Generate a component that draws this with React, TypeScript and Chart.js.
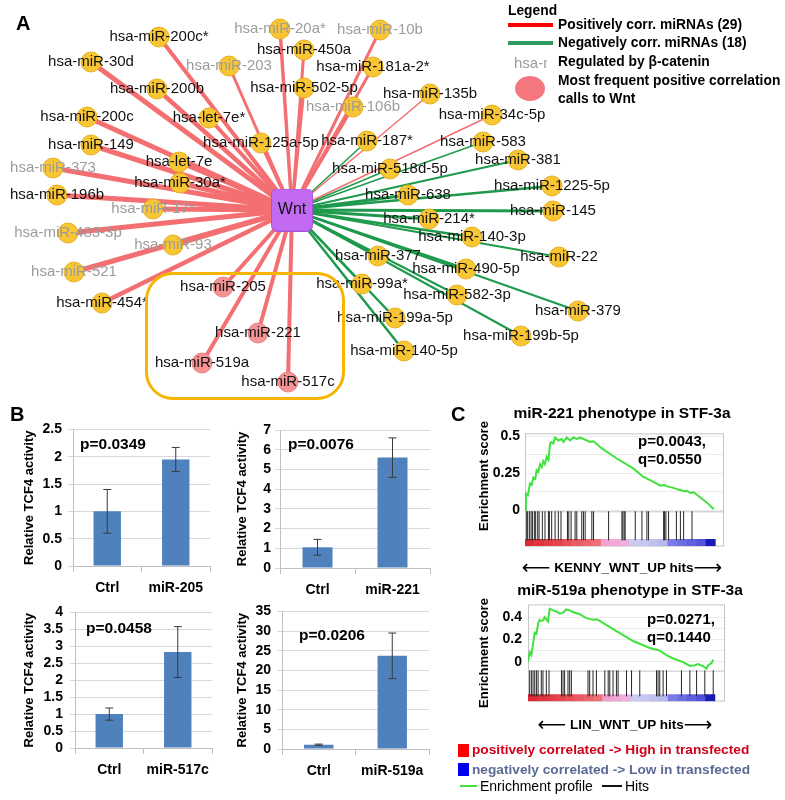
import React, { useEffect, useRef } from 'react';
import { Chart, registerables } from 'chart.js';
Chart.register(...registerables);

const SANS = '"Liberation Sans", Arial, Helvetica, sans-serif';

// ---------------- Panel A : network ----------------
const HUB_NAME = 'Wnt';
const HUB_X = 292;
const HUB_Y = 210;

const POS_NAMES = [
  'hsa-miR-200c*', 'hsa-miR-30d', 'hsa-miR-200b', 'hsa-miR-200c', 'hsa-let-7e*', 'hsa-miR-149',
  'hsa-miR-373', 'hsa-let-7e', 'hsa-miR-30a*', 'hsa-miR-196b', 'hsa-miR-125a-5p', 'hsa-miR-203',
  'hsa-miR-20a*', 'hsa-miR-450a', 'hsa-miR-502-5p', 'hsa-miR-10b', 'hsa-miR-181a-2*', 'hsa-miR-135b',
  'hsa-miR-106b', 'hsa-miR-34c-5p', 'hsa-miR-17*', 'hsa-miR-483-3p', 'hsa-miR-93', 'hsa-miR-521',
  'hsa-miR-454*', 'hsa-miR-205', 'hsa-miR-221', 'hsa-miR-519a', 'hsa-miR-517c',
];
const POS_X = [159, 91, 157, 87, 209, 91, 53, 179, 180, 57, 261, 229, 280, 304, 304, 380, 373, 430, 353, 492, 153, 68, 173, 74, 102, 223, 258, 202, 288];
const POS_Y = [37, 62, 89, 117, 118, 145, 168, 162, 183, 195, 143, 66, 29, 50, 88, 30, 67, 94, 107, 115, 209, 233, 245, 272, 303, 287, 333, 363, 382];
const POS_EDGE_W = [4, 5, 4.5, 5, 4, 5, 5, 4.5, 5, 5, 4, 3, 3.5, 3, 3, 3, 3, 1.5, 3, 1.5, 5, 5, 5, 5, 4.5, 4, 4, 4, 4];

const NEG_NAMES = [
  'hsa-miR-187*', 'hsa-miR-518d-5p', 'hsa-miR-583', 'hsa-miR-381', 'hsa-miR-1225-5p', 'hsa-miR-638',
  'hsa-miR-145', 'hsa-miR-214*', 'hsa-miR-140-3p', 'hsa-miR-22', 'hsa-miR-377', 'hsa-miR-490-5p',
  'hsa-miR-99a*', 'hsa-miR-582-3p', 'hsa-miR-379', 'hsa-miR-199a-5p', 'hsa-miR-199b-5p', 'hsa-miR-140-5p',
];
const NEG_X = [367, 390, 483, 518, 552, 408, 553, 429, 472, 559, 378, 466, 362, 457, 578, 395, 521, 404];
const NEG_Y = [141, 169, 142, 160, 186, 195, 211, 219, 237, 257, 256, 269, 284, 295, 311, 318, 336, 351];
const NEG_EDGE_W = [1.5, 1.5, 1.5, 2, 2.5, 3, 3, 3, 2.5, 2, 3, 2.5, 2.5, 2, 2, 2.5, 2, 2.5];

const BETA_CATENIN = ['hsa-miR-20a*', 'hsa-miR-10b', 'hsa-miR-203', 'hsa-miR-106b', 'hsa-miR-373', 'hsa-miR-17*', 'hsa-miR-483-3p', 'hsa-miR-93', 'hsa-miR-521'];
const FREQUENT = ['hsa-miR-205', 'hsa-miR-221', 'hsa-miR-519a', 'hsa-miR-517c'];

const LEGEND_A = ['Positively corr. miRNAs (29)', 'Negatively corr. miRNAs (18)', 'Regulated by β-catenin', 'Most frequent positive correlation', 'calls to Wnt'];

// ---------------- Panel B : bar charts ----------------
const B_CATS = [['Ctrl', 'miR-205'], ['Ctrl', 'miR-221'], ['Ctrl', 'miR-517c'], ['Ctrl', 'miR-519a']];
const B_VALS_1 = [1.0, 1.95];
const B_VALS_2 = [1.05, 5.6];
const B_VALS_3 = [1.0, 2.83];
const B_VALS_4 = [1.1, 23.7];
const B_ERRS_1 = [0.4, 0.22];
const B_ERRS_2 = [0.4, 1.0];
const B_ERRS_3 = [0.18, 0.75];
const B_ERRS_4 = [0.15, 5.8];
const B_YMAX = [2.5, 7, 4, 35];
const B_STEP = [0.5, 1, 0.5, 5];
const B_PVALS = ['p=0.0349', 'p=0.0076', 'p=0.0458', 'p=0.0206'];
const B_YTITLE = 'Relative TCF4 activity';

// ---------------- Panel C : enrichment plots ----------------
const C1_RANK = [0, 0.5, 1.5, 2.6, 3.5, 4.4, 5.4, 6.1, 7.0, 7.9, 8.8, 9.6, 10.5, 11.4, 12.3, 13.2, 14.0, 14.9, 15.8, 17.5, 19.3, 20.2, 21.9, 23.7, 25.4, 27.2, 28.9, 30.7, 32.5, 34.2, 36, 40, 48, 57, 62, 67.5, 71, 73, 74.6, 78, 80, 81.6, 84, 85.1, 86.8, 88.6, 92.1, 95.6, 99.1];
const C1_ES = [0, 0.11, 0.10, 0.18, 0.17, 0.22, 0.21, 0.27, 0.26, 0.31, 0.29, 0.33, 0.31, 0.36, 0.34, 0.45, 0.46, 0.45, 0.49, 0.47, 0.48, 0.46, 0.49, 0.47, 0.49, 0.48, 0.49, 0.48, 0.47, 0.46, 0.465, 0.42, 0.35, 0.28, 0.225, 0.19, 0.165, 0.17, 0.16, 0.15, 0.14, 0.135, 0.125, 0.13, 0.115, 0.12, 0.085, 0.05, 0.005];
const C1_HITS = [0.9, 1.4, 2.3, 3.2, 3.9, 4.9, 5.6, 6.7, 7.4, 9.1, 10.5, 12.3, 12.8, 14.0, 15.8, 17.5, 18.9, 22.3, 23.0, 24.2, 26.3, 27.2, 29.8, 30.7, 31.6, 35.1, 36.0, 43.9, 50.9, 51.4, 52.1, 52.6, 57.9, 61.4, 64.0, 64.9, 72.8, 73.3, 74.0, 75.4, 79.5, 81.6, 83.3, 87.7];

const C2_RANK = [0, 0.9, 1.8, 2.7, 3.6, 4.5, 5.4, 6.25, 7.1, 8.0, 8.9, 9.8, 10.7, 11.6, 13.4, 15.2, 17, 18.75, 20.5, 22.3, 24.1, 27.7, 31.25, 34.8, 36.6, 38.4, 47.3, 56.25, 65.2, 70.5, 74.1, 77.7, 83, 86.6, 89.3, 91, 93.75, 95.5, 96.4, 98.2, 99.1];
const C2_ES = [0, 0.085, 0.06, 0.16, 0.26, 0.25, 0.34, 0.375, 0.365, 0.37, 0.40, 0.38, 0.36, 0.475, 0.46, 0.45, 0.43, 0.44, 0.468, 0.46, 0.445, 0.425, 0.39, 0.375, 0.38, 0.365, 0.274, 0.186, 0.124, 0.10, 0.06, 0.03, -0.003, -0.036, -0.03, -0.02, -0.04, -0.06, -0.03, -0.01, 0.02];
const C2_HITS = [0.9, 1.8, 2.7, 3.6, 4.5, 5.4, 7.1, 8.0, 9.8, 11.25, 17.9, 18.75, 19.6, 21.4, 22.3, 23.2, 32.1, 33.0, 34.8, 36.6, 41.1, 42.9, 43.75, 45.5, 47.3, 48.2, 52.7, 55.4, 59.8, 68.75, 69.6, 70.5, 72.3, 74.1, 82.1, 86.6, 90.2, 94.6, 99.1];

const CBAR_POS = [2.5, 7.5, 12.5, 17.5, 22.5, 27.5, 32.5, 37.5, 42.5, 47.5, 52.5, 57.5, 62.5, 67.5, 72.5, 77.5, 82.5, 87.5, 92.5, 97.5];
const CBAR_COLORS = ['#dd2a33', '#e0333c', '#e23c45', '#e5464e', '#e85058', '#ea5a62', '#ec656c', '#ef7077', '#f2a0d2', '#f0a8d8', '#eeb0de', '#cbcbf2', '#c6c6f0', '#c0c0ee', '#b8b8ec', '#7a7ae8', '#6e6ee4', '#6060e0', '#5252da', '#1a1ab8'];

const C1_YTICKS = [0, 0.125, 0.25, 0.375, 0.5];
const C1_YLABELS = [0, 0.25, 0.5];
const C2_YTICKS = [0, 0.1, 0.2, 0.3, 0.4];
const C2_YLABELS = [0, 0.2, 0.4];

// ---------------- helpers ----------------
type TxtProps = { x: number; y: number; size: number; bold?: boolean; color?: string; center?: boolean; children: React.ReactNode; rot?: boolean };
function Txt({ x, y, size, bold, color, center, children, rot }: TxtProps) {
  const tf = rot ? 'translate(-50%,-50%) rotate(-90deg)' : center ? 'translate(-50%,-50%)' : 'translateY(-50%)';
  return (
    <div style={{ position: 'absolute', left: x, top: y, transform: tf, fontFamily: SANS, fontSize: size, fontWeight: bold ? 'bold' : 'normal', color: color || '#000', whiteSpace: 'nowrap', lineHeight: 1, zIndex: 2 }}>
      {children}
    </div>
  );
}

const ARROW_STYLE: React.CSSProperties = { fontSize: 20, fontWeight: 'normal', fontFamily: '"DejaVu Sans", sans-serif', verticalAlign: '-2px' };

function NetworkChart() {
  const ref = useRef<HTMLCanvasElement>(null);
  useEffect(() => {
    const hub = document.createElement('canvas');
    hub.width = 42; hub.height = 43;
    const hc = hub.getContext('2d')!;
    const r = 6, w = 41, h = 42, ox = 0.5, oy = 0.5;
    hc.beginPath();
    hc.moveTo(ox + r, oy);
    hc.lineTo(ox + w - r, oy); hc.quadraticCurveTo(ox + w, oy, ox + w, oy + r);
    hc.lineTo(ox + w, oy + h - r); hc.quadraticCurveTo(ox + w, oy + h, ox + w - r, oy + h);
    hc.lineTo(ox + r, oy + h); hc.quadraticCurveTo(ox, oy + h, ox, oy + h - r);
    hc.lineTo(ox, oy + r); hc.quadraticCurveTo(ox, oy, ox + r, oy);
    hc.closePath();
    hc.fillStyle = '#c26af4'; hc.fill();
    hc.strokeStyle = '#a552d8'; hc.lineWidth = 1; hc.stroke();

    const nodes = [
      ...POS_NAMES.map((n, i) => ({ name: n, x: POS_X[i], y: POS_Y[i], pos: true, w: POS_EDGE_W[i] })),
      ...NEG_NAMES.map((n, i) => ({ name: n, x: NEG_X[i], y: NEG_Y[i], pos: false, w: NEG_EDGE_W[i] })),
    ];
    const edgeSets = nodes.map((n) => ({
      type: 'line' as const,
      data: [{ x: HUB_X, y: HUB_Y }, { x: n.x, y: n.y }],
      borderColor: n.pos ? '#f36f72' : '#1f9a4c',
      borderWidth: n.w,
      pointRadius: 0,
      showLine: true,
      fill: false,
    }));
    const labelPlugin = {
      id: 'netLabels',
      afterDatasetsDraw(chart: any) {
        const { ctx, scales } = chart;
        ctx.save();
        ctx.textAlign = 'center';
        ctx.textBaseline = 'middle';
        ctx.font = `15px ${SANS}`;
        nodes.forEach((n) => {
          ctx.fillStyle = BETA_CATENIN.includes(n.name) ? '#9c9c9c' : '#111';
          ctx.fillText(n.name, scales.x.getPixelForValue(n.x), scales.y.getPixelForValue(n.y));
        });
        ctx.font = `16px ${SANS}`;
        ctx.fillStyle = '#111';
        ctx.fillText(HUB_NAME, scales.x.getPixelForValue(HUB_X), scales.y.getPixelForValue(HUB_Y));
        ctx.restore();
      },
    };
    const chart = new Chart(ref.current!, {
      type: 'scatter',
      data: {
        datasets: [
          { data: [{ x: HUB_X, y: HUB_Y }], pointStyle: hub as any, pointRadius: 21 },
          {
            data: nodes.map((n) => ({ x: n.x, y: n.y })),
            pointRadius: 10,
            pointBackgroundColor: nodes.map((n) => (FREQUENT.includes(n.name) ? '#f49294' : '#f8c534')),
            pointBorderColor: nodes.map((n) => (FREQUENT.includes(n.name) ? '#e88486' : '#e6b01e')),
            pointBorderWidth: 1,
          },
          ...(edgeSets as any[]),
        ],
      },
      options: {
        animation: false,
        responsive: false,
        devicePixelRatio: 1,
        layout: { padding: 0, autoPadding: false },
        plugins: { legend: { display: false }, tooltip: { enabled: false } },
        scales: {
          x: { type: 'linear', min: 0, max: 785, display: false },
          y: { type: 'linear', min: 0, max: 400, reverse: true, display: false },
        },
      } as any,
      plugins: [labelPlugin],
    });
    return () => chart.destroy();
  }, []);
  return <canvas ref={ref} width={785} height={400} style={{ position: 'absolute', left: 0, top: 0 }} />;
}

type BarProps = {
  left: number; top: number; width: number; height: number;
  cats: string[]; vals: number[]; errs: number[]; ymax: number; step: number;
  yW: number; padTop: number; padRight: number; xH: number; tickPad: number; titlePad: number;
};
function BarChart(p: BarProps) {
  const ref = useRef<HTMLCanvasElement>(null);
  useEffect(() => {
    const bold = { family: SANS, size: 14, weight: 'bold' as const };
    const errSets = p.cats.map((c, i) => ({
      type: 'line' as const,
      data: [{ x: c, y: p.vals[i] - p.errs[i] }, { x: c, y: p.vals[i] + p.errs[i] }],
      borderColor: '#3a3a3a',
      borderWidth: 1,
      pointStyle: 'line' as const,
      pointRadius: 4,
      pointBorderWidth: 1,
      pointBorderColor: '#3a3a3a',
    }));
    const chart = new Chart(ref.current!, {
      type: 'bar',
      data: {
        labels: p.cats,
        datasets: [
          ...(errSets as any[]),
          { type: 'bar', data: p.vals, backgroundColor: '#4f81bd', barPercentage: 0.4, categoryPercentage: 1 },
        ],
      },
      options: {
        animation: false,
        responsive: false,
        devicePixelRatio: 1,
        layout: { padding: { top: p.padTop, right: p.padRight, left: 0, bottom: 0 }, autoPadding: false },
        plugins: { legend: { display: false }, tooltip: { enabled: false } },
        scales: {
          x: {
            grid: { offset: true, drawOnChartArea: false, tickLength: 6, color: '#bfbfbf' },
            border: { color: '#bfbfbf' },
            ticks: { font: bold, color: '#000', padding: 8 },
            afterFit: (s: any) => { s.height = p.xH; },
          },
          y: {
            min: 0,
            max: p.ymax,
            ticks: { stepSize: p.step, font: bold, color: '#000', padding: p.tickPad, autoSkip: false, callback: (v: any) => String(Number(v)) },
            grid: { color: '#d9d9d9', tickLength: 5 },
            border: { color: '#bfbfbf' },
            title: { display: true, text: B_YTITLE, font: { family: SANS, size: 13, weight: 'bold' }, color: '#000', padding: { top: p.titlePad, bottom: 0 } },
            afterFit: (s: any) => { s.width = p.yW; },
          },
        },
      } as any,
    });
    return () => chart.destroy();
  }, []);
  return <canvas ref={ref} width={p.width} height={p.height} style={{ position: 'absolute', left: p.left, top: p.top }} />;
}

type GseaProps = {
  left: number; top: number; width: number; height: number;
  rank: number[]; es: number[]; hits: number[]; yticks: number[]; ylabels: number[];
  ymin: number; ymax: number; xmax: number; hitY: number; hitR: number; barY: number; sepY: number;
  yW: number; padTop: number; padRight: number; tickPad: number;
};
function GseaChart(p: GseaProps) {
  const ref = useRef<HTMLCanvasElement>(null);
  useEffect(() => {
    const frame = {
      id: 'frame',
      beforeDatasetsDraw(chart: any) {
        const { ctx, chartArea: a } = chart;
        ctx.save();
        ctx.strokeStyle = '#c4c4c4';
        ctx.lineWidth = 1;
        ctx.strokeRect(a.left + 0.5, a.top + 0.5, a.width - 1, a.height - 1);
        ctx.restore();
      },
    };
    const chart = new Chart(ref.current!, {
      type: 'scatter',
      data: {
        datasets: [
          { type: 'line', data: p.rank.map((r, i) => ({ x: r, y: p.es[i] })), borderColor: '#3fe23f', borderWidth: 2, pointRadius: 0, showLine: true },
          { data: p.hits.map((h) => ({ x: h, y: p.hitY })), pointStyle: 'line', rotation: 90, pointRadius: p.hitR, pointBorderWidth: 1, pointBorderColor: '#262626' },
          { data: CBAR_POS.map((c) => ({ x: c, y: p.barY })), pointStyle: 'line', rotation: 90, pointRadius: 3.5, pointBorderWidth: 10, pointBorderColor: CBAR_COLORS },
          { type: 'line', data: [{ x: 0, y: p.sepY }, { x: p.xmax, y: p.sepY }], borderColor: '#c4c4c4', borderWidth: 1, pointRadius: 0, showLine: true },
        ],
      } as any,
      options: {
        animation: false,
        responsive: false,
        devicePixelRatio: 1,
        layout: { padding: { top: p.padTop, right: p.padRight, left: 0, bottom: 1 }, autoPadding: false },
        plugins: { legend: { display: false }, tooltip: { enabled: false } },
        scales: {
          x: { type: 'linear', min: 0, max: p.xmax, display: false },
          y: {
            type: 'linear',
            min: p.ymin,
            max: p.ymax,
            afterBuildTicks: (s: any) => { s.ticks = p.yticks.map((v) => ({ value: v })); },
            ticks: {
              font: { family: SANS, size: 14, weight: 'bold' },
              color: '#000',
              padding: p.tickPad,
              autoSkip: false,
              callback: (v: any) => (p.ylabels.includes(Number(v)) ? String(v) : ''),
            },
            grid: { color: '#ebebeb', drawTicks: false },
            border: { display: false },
            afterFit: (s: any) => { s.width = p.yW; },
          },
        },
      } as any,
      plugins: [frame],
    });
    return () => chart.destroy();
  }, []);
  return <canvas ref={ref} width={p.width} height={p.height} style={{ position: 'absolute', left: p.left, top: p.top }} />;
}

export default function App() {
  return (
    <div style={{ position: 'absolute', left: 0, top: 0, width: 785, height: 800, overflow: 'hidden', background: '#fff', fontFamily: SANS }}>
      <NetworkChart />
      {/* orange box */}
      <div style={{ position: 'absolute', left: 145, top: 272, width: 200, height: 128, border: '3px solid #f7b500', borderRadius: 28, boxSizing: 'border-box', zIndex: 1 }} />
      <Txt x={16} y={23} size={20} bold>A</Txt>
      {/* legend A */}
      <Txt x={508} y={11} size={13.8} bold>Legend</Txt>
      <div style={{ position: 'absolute', left: 508, top: 23, width: 45, height: 4, background: '#ff0000' }} />
      <div style={{ position: 'absolute', left: 508, top: 41, width: 45, height: 4, background: '#2e9a60' }} />
      <div style={{ position: 'absolute', left: 514, top: 54, width: 33, height: 18, overflow: 'hidden' }}>
        <div style={{ fontFamily: SANS, fontSize: 15, color: '#9c9c9c', whiteSpace: 'nowrap', lineHeight: '18px' }}>hsa-miR</div>
      </div>
      <div style={{ position: 'absolute', left: 515, top: 76, width: 30, height: 25, borderRadius: '50%', background: '#f4777f' }} />
      {LEGEND_A.map((t, i) => (
        <Txt key={t} x={558} y={[25, 43, 62, 81, 99][i]} size={13.8} bold>{t}</Txt>
      ))}

      {/* Panel B */}
      <Txt x={10} y={414} size={20} bold>B</Txt>
      <BarChart left={0} top={415} width={225} height={190} cats={B_CATS[0]} vals={B_VALS_1} errs={B_ERRS_1} ymax={B_YMAX[0]} step={B_STEP[0]} yW={73} padTop={13} padRight={15} xH={39} tickPad={6} titlePad={22} />
      <BarChart left={208} top={415} width={230} height={190} cats={B_CATS[1]} vals={B_VALS_2} errs={B_ERRS_2} ymax={B_YMAX[1]} step={B_STEP[1]} yW={72} padTop={15} padRight={8} xH={37} tickPad={4} titlePad={27} />
      <BarChart left={0} top={597} width={225} height={190} cats={B_CATS[2]} vals={B_VALS_3} errs={B_ERRS_3} ymax={B_YMAX[2]} step={B_STEP[2]} yW={75} padTop={13} padRight={13} xH={39} tickPad={7} titlePad={22} />
      <BarChart left={208} top={597} width={230} height={190} cats={B_CATS[3]} vals={B_VALS_4} errs={B_ERRS_4} ymax={B_YMAX[3]} step={B_STEP[3]} yW={74} padTop={13} padRight={9} xH={38} tickPad={6} titlePad={27} />
      <Txt x={80} y={444} size={15.5} bold>{B_PVALS[0]}</Txt>
      <Txt x={288} y={444} size={15.5} bold>{B_PVALS[1]}</Txt>
      <Txt x={86} y={628} size={15.5} bold>{B_PVALS[2]}</Txt>
      <Txt x={299} y={635} size={15.5} bold>{B_PVALS[3]}</Txt>

      {/* Panel C */}
      <Txt x={451} y={414} size={20} bold>C</Txt>
      <Txt x={622} y={413} size={15.5} bold center>miR-221 phenotype in STF-3a</Txt>
      <GseaChart left={490} top={420} width={245} height={140} rank={C1_RANK} es={C1_ES} hits={C1_HITS} yticks={C1_YTICKS} ylabels={C1_YLABELS}
        ymin={-0.247} ymax={0.518} xmax={104.5} hitY={-0.106} hitR={14.5} barY={-0.22} sepY={-0.012} yW={35} padTop={9} padRight={11} tickPad={5} />
      <Txt x={638} y={440} size={15} bold>p=0.0043,</Txt>
      <Txt x={638} y={458} size={15} bold>q=0.0550</Txt>
      <Txt x={622} y={567} size={13.5} bold center><span style={ARROW_STYLE}>⟵</span> KENNY_WNT_UP hits<span style={ARROW_STYLE}>⟶</span></Txt>
      <Txt x={483} y={476} size={13} bold rot>Enrichment score</Txt>

      <Txt x={630} y={590} size={15.5} bold center>miR-519a phenotype in STF-3a</Txt>
      <GseaChart left={490} top={590} width={245} height={126} rank={C2_RANK} es={C2_ES} hits={C2_HITS} yticks={C2_YTICKS} ylabels={C2_YLABELS}
        ymin={-0.355} ymax={0.513} xmax={105.4} hitY={-0.192} hitR={13} barY={-0.32} sepY={-0.083} yW={38} padTop={10} padRight={10} tickPad={6} />
      <Txt x={647} y={618} size={15} bold>p=0.0271,</Txt>
      <Txt x={647} y={636} size={15} bold>q=0.1440</Txt>
      <Txt x={625} y={724} size={13.5} bold center><span style={ARROW_STYLE}>⟵</span> LIN_WNT_UP hits<span style={ARROW_STYLE}>⟶</span></Txt>
      <Txt x={483} y={653} size={13} bold rot>Enrichment score</Txt>

      {/* legend C */}
      <div style={{ position: 'absolute', left: 458, top: 744, width: 11, height: 13, background: '#ff0000' }} />
      <Txt x={472} y={750} size={13.7} bold color="#d0001a">positively correlated -&gt; High in transfected</Txt>
      <div style={{ position: 'absolute', left: 458, top: 763, width: 11, height: 13, background: '#0000ee' }} />
      <Txt x={472} y={770} size={13.7} bold color="#5a6a94">negatively correlated -&gt; Low in transfected</Txt>
      <div style={{ position: 'absolute', left: 460, top: 785, width: 17, height: 2, background: '#3fe23f' }} />
      <Txt x={480} y={786} size={14}>Enrichment profile</Txt>
      <div style={{ position: 'absolute', left: 602, top: 785, width: 20, height: 1.5, background: '#111' }} />
      <Txt x={625} y={786} size={14}>Hits</Txt>
    </div>
  );
}
